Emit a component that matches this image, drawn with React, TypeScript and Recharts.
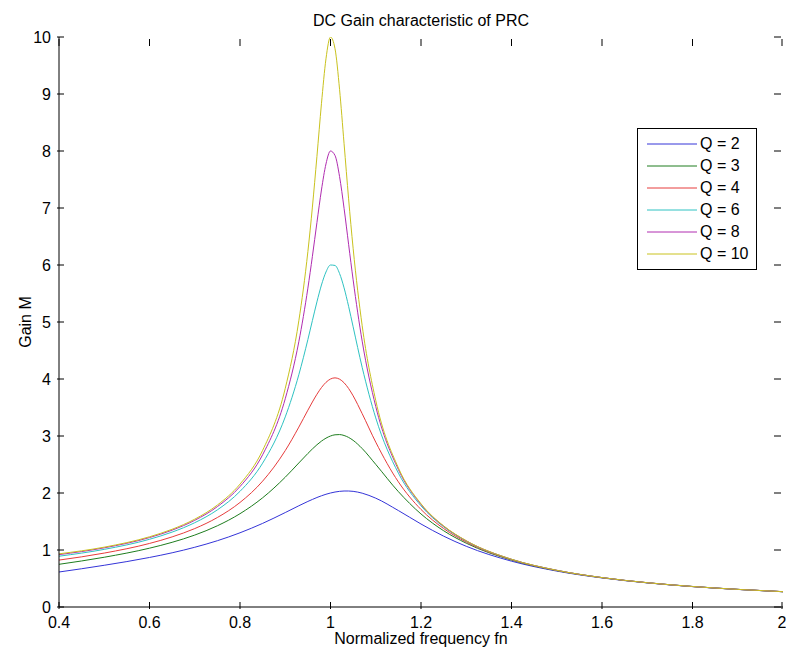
import { LineChart, Line, XAxis, YAxis, Legend } from "recharts";

// normalized frequency (x) and gain curves
const fn = [
  0.4, 0.5, 0.6, 0.65, 0.7, 0.75, 0.8, 0.85, 0.9, 0.93, 0.95, 0.96, 0.97, 0.98,
  0.99, 1.0, 1.01, 1.02, 1.03, 1.04, 1.05, 1.07, 1.1, 1.15, 1.2, 1.25, 1.3, 1.4,
  1.5, 1.6, 1.7, 1.8, 1.9, 2.0,
];
const q2 = [
  0.614, 0.732, 0.869, 0.951, 1.048, 1.163, 1.302, 1.467, 1.657, 1.776, 1.852,
  1.887, 1.921, 1.951, 1.978, 2.0, 2.017, 2.029, 2.035, 2.035, 2.029, 1.997,
  1.909, 1.692, 1.456, 1.243, 1.065, 0.804, 0.63, 0.51, 0.423, 0.358, 0.308,
  0.268,
];
const q3 = [
  0.749, 0.873, 1.032, 1.135, 1.262, 1.425, 1.637, 1.916, 2.277, 2.527, 2.694,
  2.773, 2.846, 2.91, 2.962, 3.0, 3.021, 3.025, 3.009, 2.975, 2.924, 2.78,
  2.502, 2.024, 1.632, 1.338, 1.119, 0.823, 0.638, 0.514, 0.425, 0.359, 0.309,
  0.268,
];
const q4 = [
  0.823, 0.946, 1.115, 1.23, 1.376, 1.57, 1.834, 2.208, 2.744, 3.156, 3.453,
  3.597, 3.732, 3.849, 3.941, 4.0, 4.02, 3.997, 3.934, 3.834, 3.705, 3.392,
  2.892, 2.195, 1.711, 1.377, 1.139, 0.83, 0.641, 0.515, 0.426, 0.359, 0.309,
  0.269,
];
const q6 = [
  0.891, 1.011, 1.188, 1.314, 1.479, 1.704, 2.029, 2.524, 3.335, 4.075, 4.692,
  5.025, 5.353, 5.649, 5.877, 6.0, 5.992, 5.851, 5.599, 5.275, 4.916, 4.204,
  3.317, 2.349, 1.775, 1.407, 1.155, 0.835, 0.643, 0.516, 0.426, 0.36, 0.309,
  0.269,
];
const q8 = [
  0.919, 1.038, 1.218, 1.348, 1.521, 1.761, 2.113, 2.671, 3.654, 4.654, 5.594,
  6.152, 6.744, 7.316, 7.773, 8.0, 7.921, 7.552, 6.994, 6.363, 5.74, 4.664,
  3.517, 2.411, 1.799, 1.418, 1.161, 0.837, 0.644, 0.516, 0.426, 0.36, 0.309,
  0.269,
];
const q10 = [
  0.933, 1.05, 1.232, 1.364, 1.541, 1.789, 2.156, 2.748, 3.836, 5.021, 6.235,
  7.016, 7.904, 8.829, 9.617, 10.0, 9.794, 9.082, 8.128, 7.161, 6.293, 4.935,
  3.623, 2.441, 1.811, 1.423, 1.163, 0.838, 0.644, 0.516, 0.426, 0.36, 0.309,
  0.269,
];

const xTicks = [0.4, 0.6, 0.8, 1, 1.2, 1.4, 1.6, 1.8, 2];
const yTicks = [0, 1, 2, 3, 4, 5, 6, 7, 8, 9, 10];

const series = [
  { key: "q2", name: "Q = 2", values: q2, color: "#3434d8" },
  { key: "q3", name: "Q = 3", values: q3, color: "#1e7d1e" },
  { key: "q4", name: "Q = 4", values: q4, color: "#e63c3c" },
  { key: "q6", name: "Q = 6", values: q6, color: "#2ec2c2" },
  { key: "q8", name: "Q = 8", values: q8, color: "#b02cb0" },
  { key: "q10", name: "Q = 10", values: q10, color: "#c9c21e" },
];

const data = fn.map((f, i) => {
  const row: any = { fn: f };
  series.forEach((s) => (row[s.key] = s.values[i]));
  return row;
});

const font = "'Liberation Sans', Arial, sans-serif";
const PLOT_W = 724;
const PLOT_H = 570;

// matlab style: ticks point into the plot box, on all four sides
const BottomTick = ({ x, y, payload }: any) => (
  <g>
    <line x1={x} y1={y} x2={x} y2={y - 7} stroke="#000" />
    <line x1={x} y1={y - PLOT_H} x2={x} y2={y - PLOT_H + 7} stroke="#000" />
    <text x={x} y={y + 19} textAnchor="middle" fontSize={16} fill="#000">
      {String(payload.value)}
    </text>
  </g>
);
const LeftTick = ({ x, y, payload }: any) => (
  <g>
    <line x1={x} y1={y} x2={x + 7} y2={y} stroke="#000" />
    <line x1={x + PLOT_W} y1={y} x2={x + PLOT_W - 7} y2={y} stroke="#000" />
    <text x={x - 6} y={y + 6} textAnchor="end" fontSize={16} fill="#000">
      {String(payload.value)}
    </text>
  </g>
);

const LegendBox = () => (
  <div
    style={{
      border: "1px solid #000",
      background: "#fff",
      width: 118,
      padding: "4px 0",
      fontFamily: font,
      fontSize: 16,
    }}
  >
    {series.map((s) => (
      <div
        key={s.key}
        style={{ height: 22, display: "flex", alignItems: "center" }}
      >
        <svg width={62} height={22}>
          <line x1={9} y1={11} x2={59} y2={11} stroke={s.color} />
        </svg>
        <span>{s.name}</span>
      </div>
    ))}
  </div>
);

export default function App() {
  return (
    <div style={{ position: "relative", width: 786, height: 650, background: "#fff", fontFamily: font }}>
      <style>{"body{margin:0}"}</style>
      <div
        style={{
          position: "absolute",
          left: 59,
          width: 724,
          top: 12,
          lineHeight: "18px",
          textAlign: "center",
          fontSize: 16,
        }}
      >
        DC Gain characteristic of PRC
      </div>
      <LineChart
        width={786}
        height={650}
        data={data}
        margin={{ top: 37, right: 3, bottom: 0, left: 0 }}
        style={{ fontFamily: font }}
      >
        <XAxis
          dataKey="fn"
          type="number"
          domain={[0.4, 2]}
          ticks={xTicks}
          allowDataOverflow
          height={43}
          tickSize={0}
          tickLine={false}
          axisLine={{ stroke: "#000" }}
          tick={<BottomTick />}
          label={{
            value: "Normalized frequency fn",
            position: "insideBottom",
            offset: 6,
            fontSize: 16,
            fill: "#000",
          }}
        />
        <XAxis
          xAxisId="top"
          orientation="top"
          type="number"
          domain={[0.4, 2]}
          ticks={xTicks}
          allowDataOverflow
          height={0}
          tick={false}
          tickLine={false}
          axisLine={{ stroke: "#000" }}
        />
        <YAxis
          type="number"
          domain={[0, 10]}
          ticks={yTicks}
          allowDataOverflow
          width={59}
          tickSize={0}
          tickLine={false}
          axisLine={{ stroke: "#000" }}
          tick={<LeftTick />}
          label={{
            value: "Gain M",
            angle: -90,
            position: "insideLeft",
            offset: 25,
            fontSize: 16,
            fill: "#000",
            style: { textAnchor: "middle" },
          }}
        />
        <YAxis
          yAxisId="right"
          orientation="right"
          type="number"
          domain={[0, 10]}
          ticks={yTicks}
          allowDataOverflow
          width={0}
          tick={false}
          tickLine={false}
          axisLine={{ stroke: "#000" }}
        />
        <Legend
          layout="vertical"
          align="center"
          verticalAlign="middle"
          content={<LegendBox />}
          wrapperStyle={{ left: 637, top: 128, width: 120 }}
        />
        {series.map((s) => (
          <Line
            key={s.key}
            dataKey={s.key}
            name={s.name}
            type="monotone"
            stroke={s.color}
            strokeWidth={1}
            dot={false}
            activeDot={false}
            isAnimationActive={false}
          />
        ))}
      </LineChart>
    </div>
  );
}
